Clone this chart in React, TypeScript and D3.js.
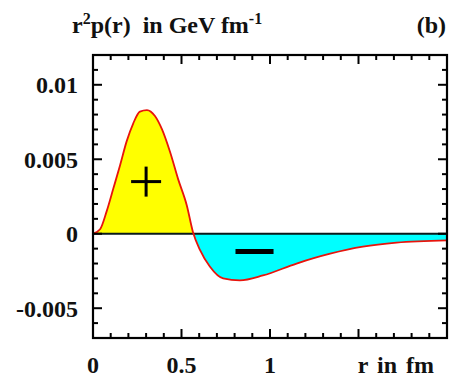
import React, { useEffect, useRef } from 'react';
import * as d3 from 'd3';

// r in fm and r^2 p(r) in GeV fm^-1
const rValues = [0, 0.04, 0.077, 0.114, 0.153, 0.19, 0.227, 0.265, 0.305, 0.35, 0.39, 0.435, 0.48, 0.53, 0.565, 0.605, 0.66, 0.735, 0.83, 0.96, 1.15, 1.34, 1.525, 1.715, 2.0];
const pValues = [0, 0.0003, 0.0015, 0.003, 0.0046, 0.0062, 0.0074, 0.0082, 0.0083, 0.0079, 0.007, 0.0055, 0.0037, 0.0019, 0.0001, -0.0011, -0.0022, -0.003, -0.00313, -0.0028, -0.002, -0.00134, -0.00087, -0.0006, -0.00045];

const xTickValues = [0, 0.5, 1];
const xTickLabels = ['0', '0.5', '1'];
const yTickValues = [0.01, 0.005, 0, -0.005];
const yTickLabels = ['0.01', '0.005', '0', '-0.005'];

function App() {
  const chartRef = useRef<SVGSVGElement>(null);

  useEffect(() => {
    const left = 93, right = 447, top = 55, bottom = 338;
    const font = 'Liberation Serif, DejaVu Serif, serif';

    const svg = d3.select(chartRef.current);
    svg.selectAll('*').remove();

    const x = d3.scaleLinear().domain([0, 2]).range([left, right]);
    const y = d3.scaleLinear().domain([-0.007, 0.012]).range([bottom, top]);

    const data = rValues.map((r, i) => ({ r, p: pValues[i] }));

    // clip areas above / below zero
    const defs = svg.append('defs');
    defs.append('clipPath').attr('id', 'clipPos')
      .append('rect').attr('x', left).attr('y', top).attr('width', right - left).attr('height', y(0) - top);
    defs.append('clipPath').attr('id', 'clipNeg')
      .append('rect').attr('x', left).attr('y', y(0)).attr('width', right - left).attr('height', bottom - y(0));

    const area = d3.area<{ r: number; p: number }>()
      .x(d => x(d.r))
      .y0(y(0))
      .y1(d => y(d.p))
      .curve(d3.curveMonotoneX);

    svg.append('path').datum(data).attr('d', area).attr('fill', '#ffff00').attr('clip-path', 'url(#clipPos)');
    svg.append('path').datum(data).attr('d', area).attr('fill', '#00ffff').attr('clip-path', 'url(#clipNeg)');

    // zero line
    svg.append('line')
      .attr('x1', left).attr('x2', right)
      .attr('y1', y(0)).attr('y2', y(0))
      .attr('stroke', '#0a1a1a').attr('stroke-width', 1.8);

    const line = d3.line<{ r: number; p: number }>()
      .x(d => x(d.r))
      .y(d => y(d.p))
      .curve(d3.curveMonotoneX);

    svg.append('path').datum(data).attr('d', line)
      .attr('fill', 'none').attr('stroke', '#e8140c').attr('stroke-width', 1.8);

    // + and - markers
    const px = x(0.3), py = y(0.0035);
    svg.append('line').attr('x1', px - 15).attr('x2', px + 15).attr('y1', py).attr('y2', py)
      .attr('stroke', '#000').attr('stroke-width', 3);
    svg.append('line').attr('x1', px).attr('x2', px).attr('y1', py - 15).attr('y2', py + 15)
      .attr('stroke', '#000').attr('stroke-width', 3);
    svg.append('line').attr('x1', x(0.805)).attr('x2', x(1.02)).attr('y1', y(-0.0012)).attr('y2', y(-0.0012))
      .attr('stroke', '#000').attr('stroke-width', 5);

    // ticks on all four sides, pointing inwards
    const ticks = svg.append('g').attr('stroke', '#000').attr('stroke-width', 2);
    d3.range(0, 2.0001, 0.1).forEach((v, i) => {
      const len = i % 5 === 0 ? 9 : 5;
      ticks.append('line').attr('x1', x(v)).attr('x2', x(v)).attr('y1', bottom).attr('y2', bottom - len);
      ticks.append('line').attr('x1', x(v)).attr('x2', x(v)).attr('y1', top).attr('y2', top + len);
    });
    d3.range(-7, 13).forEach(k => {
      const v = k * 0.001;
      const len = k % 5 === 0 ? 9 : 5;
      ticks.append('line').attr('x1', left).attr('x2', left + len).attr('y1', y(v)).attr('y2', y(v));
      ticks.append('line').attr('x1', right).attr('x2', right - len).attr('y1', y(v)).attr('y2', y(v));
    });

    // frame
    svg.append('rect')
      .attr('x', left).attr('y', top).attr('width', right - left).attr('height', bottom - top)
      .attr('fill', 'none').attr('stroke', '#000').attr('stroke-width', 2.2);

    const text = svg.append('g')
      .attr('font-family', font).attr('font-weight', 'bold').attr('font-size', 24).attr('fill', '#111');

    xTickValues.forEach((v, i) => {
      text.append('text').attr('x', x(v)).attr('y', 373).attr('text-anchor', 'middle').text(xTickLabels[i]);
    });
    text.append('text').attr('x', 434).attr('y', 373).attr('text-anchor', 'end').attr('word-spacing', 3).text('r in fm');

    yTickValues.forEach((v, i) => {
      text.append('text').attr('x', 78).attr('y', y(v)).attr('dy', '0.35em').attr('text-anchor', 'end').text(yTickLabels[i]);
    });

    const title = text.append('text').attr('x', 72).attr('y', 33);
    title.append('tspan').text('r');
    title.append('tspan').attr('dy', -9).attr('font-size', 16).text('2');
    title.append('tspan').attr('dy', 9).text('p(r)\u00a0 in GeV fm');
    title.append('tspan').attr('dy', -9).attr('font-size', 16).text('-1');

    text.append('text').attr('x', 446).attr('y', 33).attr('text-anchor', 'end').text('(b)');
  }, []);

  return (
    <svg ref={chartRef} width={452} height={377} style={{ position: 'absolute', left: 0, top: 0, background: '#fff' }} />
  );
}

export default App;
